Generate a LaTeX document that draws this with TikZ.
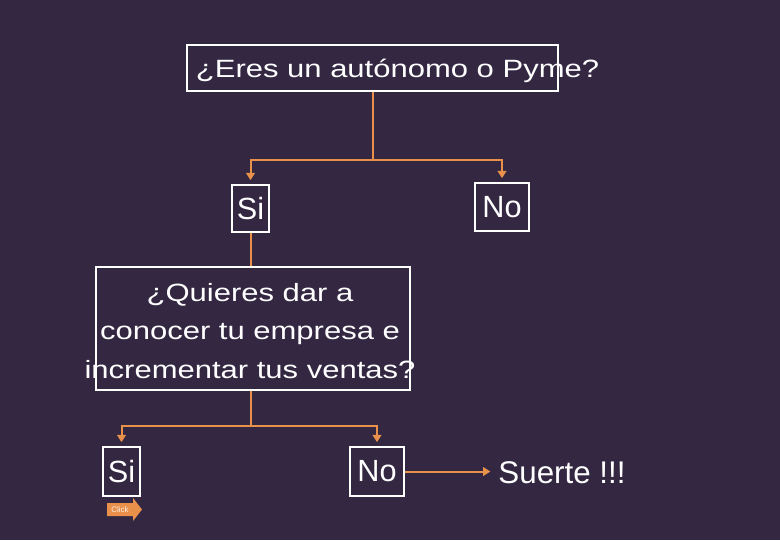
\documentclass[tikz,border=0pt]{standalone}
\usepackage{fontspec}
\setmainfont{Liberation Sans}
\newfontfamily\widefont[FakeStretch=1.24]{Liberation Sans}
\usetikzlibrary{arrows.meta}
\definecolor{bg}{RGB}{51,39,66}
\definecolor{accent}{RGB}{233,145,75}
\begin{document}
\begin{tikzpicture}[x=0.75pt,y=-0.75pt,
  box/.style={draw=white, line width=2.2pt, inner sep=0pt, text=white, font=\fontsize{23}{28}\selectfont},
  bigtxt/.style={text=white, inner sep=0pt, font=\widefont\fontsize{18.75}{28.9}\selectfont},
  anstxt/.style={text=white, font=\fontsize{23.5}{28}\selectfont},
  conn/.style={draw=accent, line width=1.5pt},
  arr/.style={conn, -{Triangle[length=5.5pt,width=6.5pt]}, shorten >=2.5pt}]
\useasboundingbox (0,0) rectangle (780,540);
\fill[bg] (0,0) rectangle (780,540);
% boxes
\node[box, minimum width=278.25pt, minimum height=34.5pt] (top) at (372.5,68) {};
\node[box, minimum width=27.75pt, minimum height=35.25pt] (si1) at (250.5,208.5) {Si};
\node[box, minimum width=40.5pt, minimum height=36pt] (no1) at (502,207) {No};
\node[box, minimum width=235.5pt, minimum height=92.25pt] (q) at (253,328.5) {};
\node[box, minimum width=27.75pt, minimum height=36.75pt] (si2) at (121.5,471.5) {Si};
\node[box, minimum width=40.5pt, minimum height=36.75pt] (no2) at (377,471.5) {No};
% texts
\node[bigtxt, anchor=base] (toptxt) at (397.5,77) {¿Eres un autónomo o Pyme?};
\node[bigtxt, align=center] (qtxt) at (250,331) {¿Quieres dar a\\conocer tu empresa e\\incrementar tus ventas?};
\node[anstxt] (suerte) at (562,473) {Suerte !!!};
% connectors
\draw[conn] (top.south) -- ++(0,68) coordinate (j1);
\draw[arr] (j1) -| (si1.north);
\draw[arr] (j1) -| (no1.north);
\draw[conn] (si1.south) -- (si1.south |- q.north);
\draw[conn] (si1.south |- q.south) -- ++(0,35) coordinate (j2);
\draw[arr] (j2) -| (si2.north);
\draw[arr] (j2) -| (no2.north);
\draw[arr] (no2.east) -- (no2.east -| suerte.west);
% click button
\fill[accent] (107,503) -- (133,503) -- (133,498) -- (142,509.5) -- (133,521) -- (133,516) -- (107,516) -- cycle;
\node[text=white!85!accent, inner sep=0pt, font=\fontsize{6}{7}\selectfont] (click) at (120,509.5) {Click};
\end{tikzpicture}
\end{document}
